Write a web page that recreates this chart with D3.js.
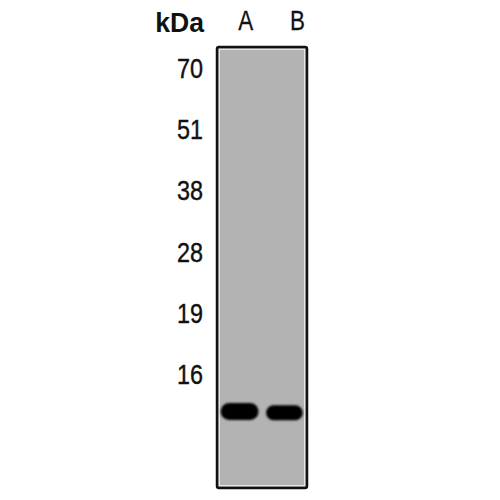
<!DOCTYPE html>
<html>
<head>
<meta charset="utf-8">
<script src="https://cdn.jsdelivr.net/npm/d3@7"></script>
<style>
  body { margin: 0; background: #fff; }
  text { font-family: "Liberation Sans", Arial, sans-serif; fill: #111; }
</style>
</head>
<body>
<div id="blot"></div>
<script>
const width = 500;
const height = 500;

// marker ladder (kDa), top to bottom
const markers = ["70", "51", "38", "28", "19", "16"];
// lanes
const lanes = ["A", "B"];
// detected band per lane: position in kDa, relative width and thickness of the smear
const bandKDa = [14.4, 14.35];
const bandWidth = [0.92, 0.89];
const bandThick = [17, 15];

const svg = d3.select("#blot")
  .append("svg")
  .attr("width", width)
  .attr("height", height);

const defs = svg.append("defs");
defs.append("filter")
  .attr("id", "soft")
  .attr("x", "-20%").attr("y", "-50%")
  .attr("width", "140%").attr("height", "200%")
  .append("feGaussianBlur")
  .attr("stdDeviation", 1.1);

const gel = { x0: 217, x1: 307, y0: 47, y1: 488 };

const yMarker = d3.scalePoint()
  .domain(markers)
  .range([68, 374]);

// kDa -> y, log-piecewise through the marker positions
const y = d3.scaleLog()
  .domain(markers.map(Number))
  .range(markers.map(d => yMarker(d)));

const x = d3.scaleBand()
  .domain(lanes)
  .range([gel.x0 + 2, gel.x1 - 2])
  .paddingInner(0.08);

// gel background
svg.append("rect")
  .attr("x", gel.x0)
  .attr("y", gel.y0)
  .attr("width", gel.x1 - gel.x0)
  .attr("height", gel.y1 - gel.y0)
  .attr("rx", 2)
  .attr("fill", "#b3b3b3")
  .attr("stroke", "#111")
  .attr("stroke-width", 2.5);

svg.append("rect")
  .attr("x", gel.x0 + 2.5)
  .attr("y", gel.y0 + 2.5)
  .attr("width", gel.x1 - gel.x0 - 5)
  .attr("height", gel.y1 - gel.y0 - 5)
  .attr("fill", "none")
  .attr("stroke", "#e6e6e6")
  .attr("stroke-width", 1);

// bands
svg.selectAll("rect.band")
  .data(lanes)
  .enter().append("rect")
  .attr("class", "band")
  .attr("x", (d, i) => x(d) + x.bandwidth() * (1 - bandWidth[i]) / 2)
  .attr("y", (d, i) => y(bandKDa[i]) - bandThick[i] / 2)
  .attr("width", (d, i) => x.bandwidth() * bandWidth[i])
  .attr("height", (d, i) => bandThick[i])
  .attr("rx", (d, i) => bandThick[i] / 2)
  .attr("fill", "#050505")
  .attr("filter", "url(#soft)");

// marker labels
svg.selectAll("text.marker")
  .data(markers)
  .enter().append("text")
  .attr("class", "marker")
  .attr("transform", d => `translate(203,${yMarker(d)}) scale(0.85,1)`)
  .attr("text-anchor", "end")
  .attr("dy", "0.36em")
  .attr("font-size", 27.5)
  .attr("stroke", "#111")
  .attr("stroke-width", 0.4)
  .text(d => d);

svg.append("text")
  .attr("transform", "translate(204,32) scale(0.95,1)")
  .attr("text-anchor", "end")
  .attr("font-size", 28)
  .attr("font-weight", "bold")
  .text("kDa");

svg.selectAll("text.lane")
  .data(lanes)
  .enter().append("text")
  .attr("class", "lane")
  .attr("transform", d => `translate(${x(d) + x.bandwidth() / 2 + (d === "A" ? 6 : 13)},30) scale(0.8,1)`)
  .attr("text-anchor", "middle")
  .attr("font-size", 28)
  .attr("stroke", "#111")
  .attr("stroke-width", 0.3)
  .text(d => d);
</script>
</body>
</html>
